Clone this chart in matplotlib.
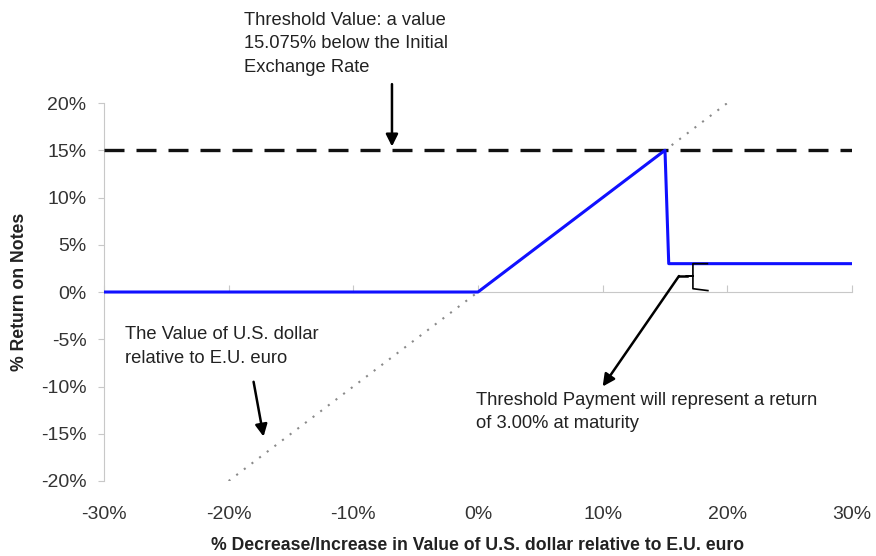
import numpy as np
import matplotlib.pyplot as plt
from matplotlib.ticker import FuncFormatter

plt.rcParams['font.family'] = ['Liberation Sans', 'DejaVu Sans']

# payoff of the notes (% change of USD vs EUR -> % return)
x_notes = [-30, 0, 15.0, 15.3, 30]
y_notes = [0, 0, 15.0, 3.0, 3.0]

# reference line: value of USD relative to EUR
x_ref = [-20, 20]
y_ref = [-20, 20]

threshold = 15
x_span = [-30, 30]

xticks = np.arange(-30, 31, 10)
yticks = np.arange(-20, 21, 5)

fig = plt.figure(figsize=(8.76, 5.56), dpi=100)
ax = fig.add_axes([0.1187, 0.1349, 0.8539, 0.6798])

ax.plot(x_span, [threshold, threshold], color='#111111', lw=2.4,
        dashes=(6.0, 3.6), zorder=3)
ax.plot(x_ref, y_ref, color='#8a8a8a', lw=1.5, ls=(0, (1, 3.6)), zorder=2)
ax.plot(x_notes, y_notes, color='#1010ff', lw=2.2, zorder=4)

ax.set_xlim(-30, 30)
ax.set_ylim(-20, 20)

pct = FuncFormatter(lambda v, p: f'{v:.0f}%')
ax.set_yticks(yticks)
ax.yaxis.set_major_formatter(pct)
ax.set_xticks(xticks)
ax.xaxis.set_major_formatter(pct)

for s in ['top', 'right', 'bottom']:
    ax.spines[s].set_visible(False)
ax.spines['left'].set_color('#c8c8c8')
ax.tick_params(axis='y', length=4, color='#c8c8c8', pad=8.5,
               labelsize=14, labelcolor='#333333')
ax.tick_params(axis='x', length=0, pad=18, labelsize=14,
               labelcolor='#333333')

# zero axis with ticks, labels stay low
zero_ax = ax.secondary_xaxis(0.5)
zero_ax.set_xticks(xticks)
zero_ax.tick_params(length=5, color='#c8c8c8', labelbottom=False, labeltop=False,
                    direction='out')
zero_ax.spines['bottom'].set_color('#c8c8c8')
zero_ax.spines['top'].set_color('#c8c8c8')

ax.set_xlabel('% Decrease/Increase in Value of U.S. dollar relative to E.U. euro',
              fontsize=12.7, fontweight='bold', color='#222222', labelpad=10)
ax.set_ylabel('% Return on Notes', fontsize=12.7, fontweight='bold',
              color='#222222', labelpad=9)

arrow = dict(arrowstyle='-|>', color='black', lw=1.8, mutation_scale=18,
             shrinkA=0, shrinkB=0)
tsize = 13.2

ax.annotate('', xy=(-6.9, 15.4), xytext=(-6.9, 22.0), arrowprops=arrow,
            annotation_clip=False)
ax.text(-18.77, 26.25, 'Threshold Value: a value\n15.075% below the Initial\nExchange Rate',
        fontsize=tsize, color='#222222', va='center', ha='left', linespacing=1.5,
        clip_on=False)

ax.annotate('', xy=(-17.2, -15.3), xytext=(-18.0, -9.5), arrowprops=arrow)
ax.text(-28.3, -5.75, 'The Value of U.S. dollar\nrelative to E.U. euro',
        fontsize=tsize, color='#222222', va='center', ha='left', linespacing=1.5)

# brace on the 3% payment, with arrow to the note
ax.plot([18.4, 17.24, 17.24, 16.7, 17.24, 17.24, 18.44],
        [3.0, 3.0, 1.69, 1.69, 1.69, 0.35, 0.15], color='black', lw=1.2, zorder=5)
ax.plot([16.12, 16.8], [1.69, 1.69], color='black', lw=1.8, zorder=5)
ax.annotate('', xy=(10.0, -10.0), xytext=(16.12, 1.69), arrowprops=arrow)
ax.text(-0.16, -12.7, 'Threshold Payment will represent a return\nof 3.00% at maturity',
        fontsize=tsize, color='#222222', va='center', ha='left', linespacing=1.5)

fig.savefig('out.png', dpi=100)
